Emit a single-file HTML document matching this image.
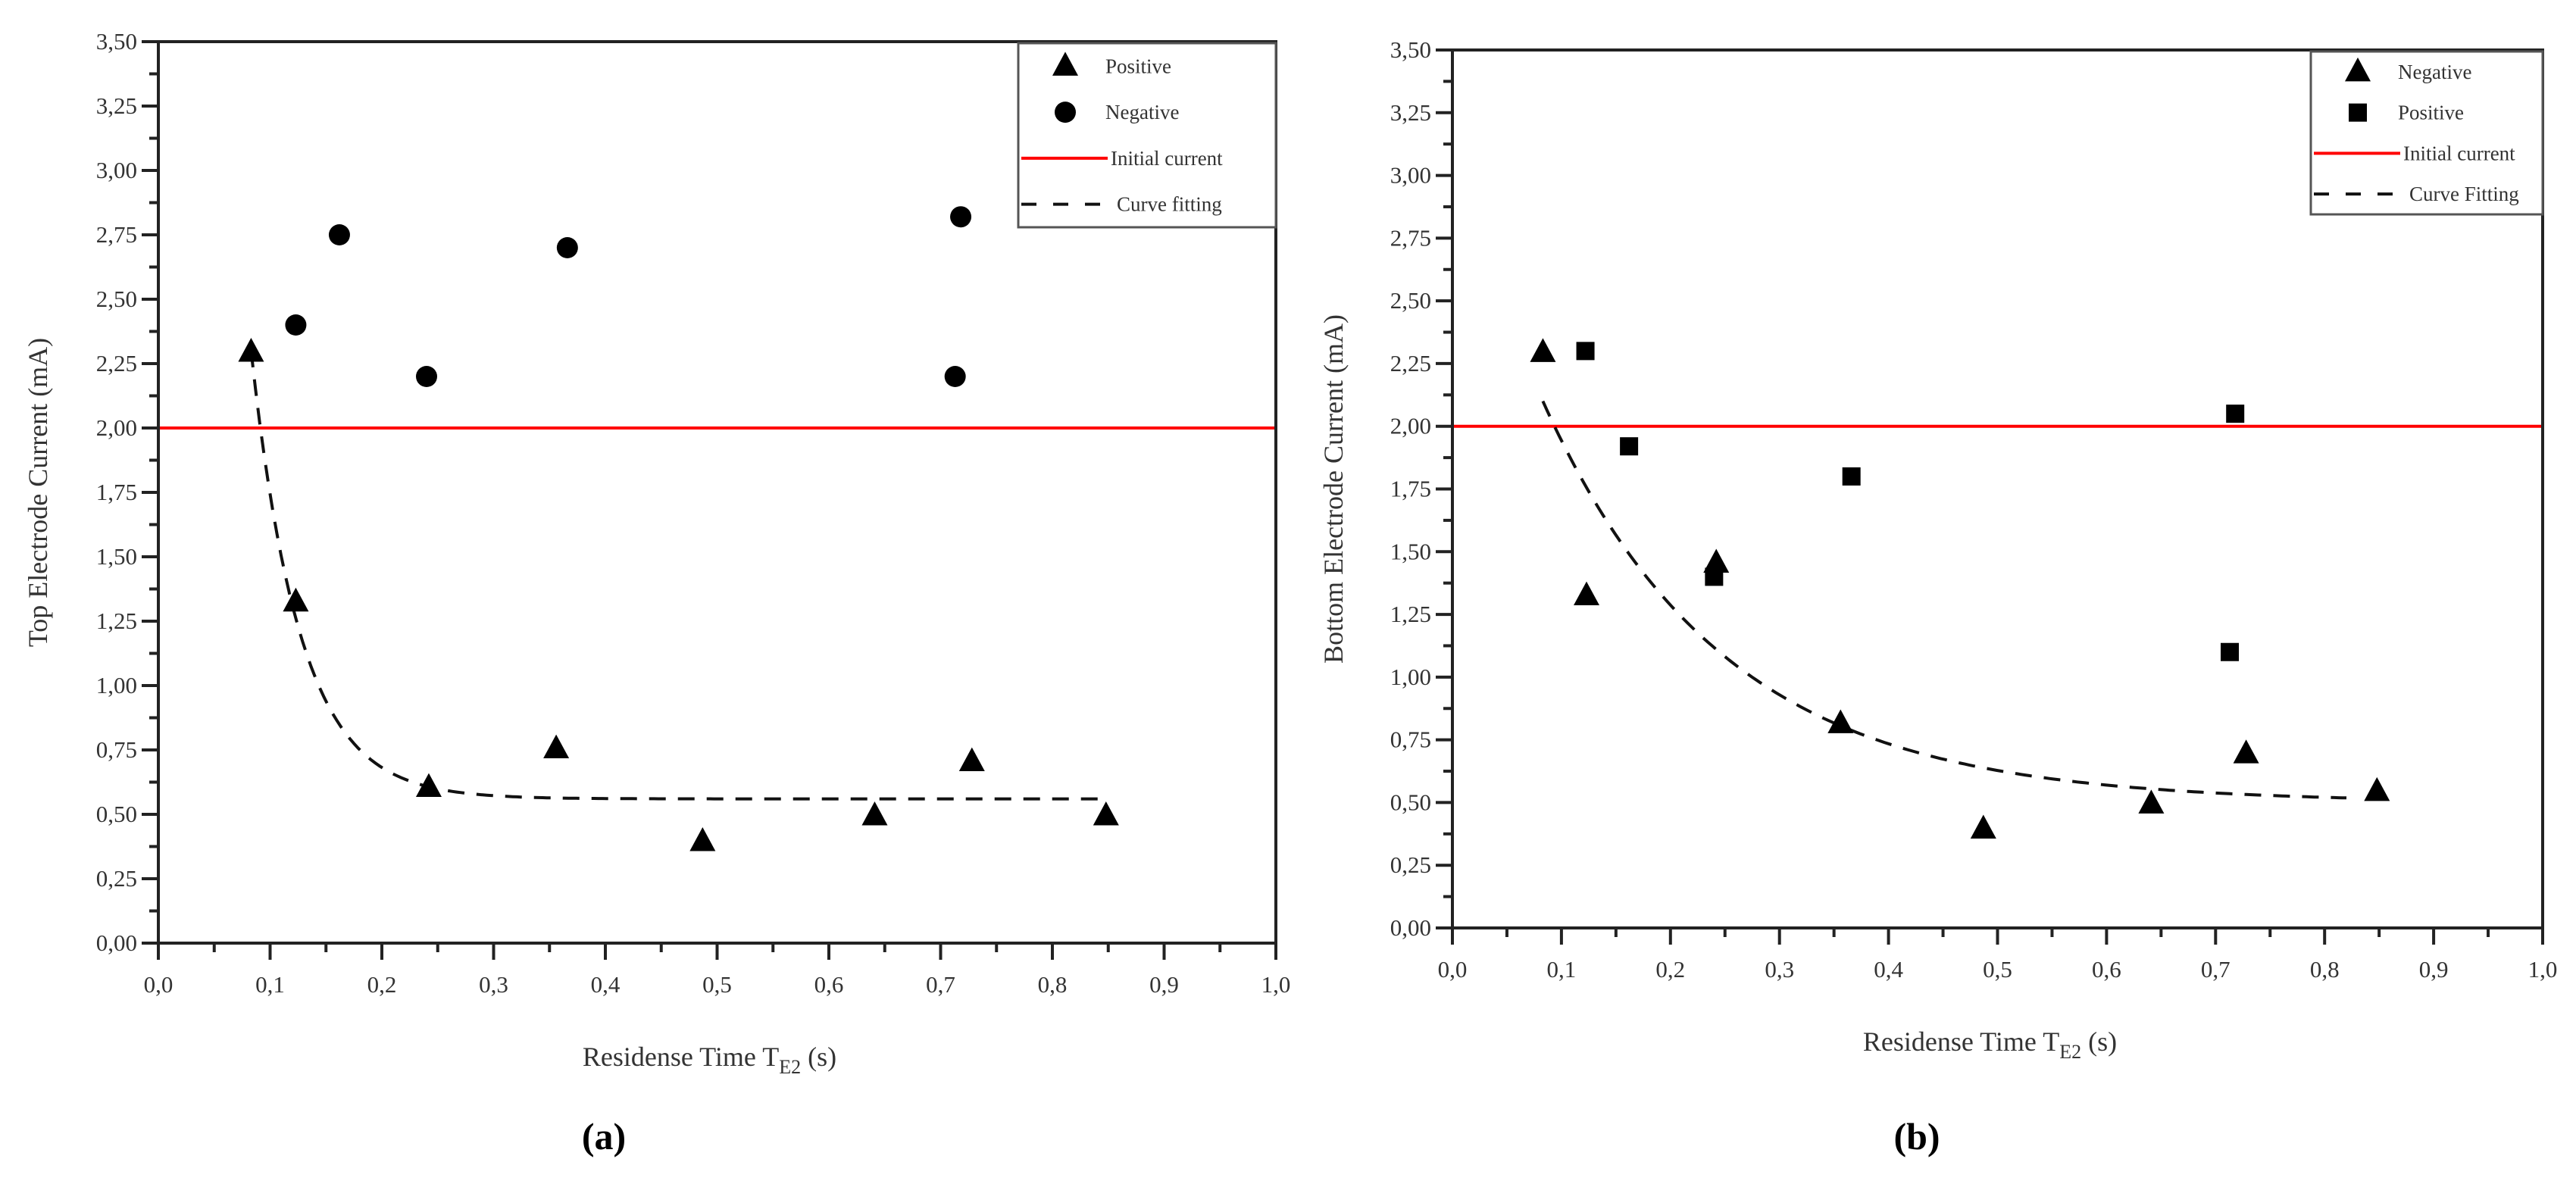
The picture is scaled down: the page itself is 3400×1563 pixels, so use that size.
<!DOCTYPE html>
<html><head><meta charset="utf-8"><style>
html,body{margin:0;padding:0;background:#fff;}
svg{display:block;font-family:"Liberation Serif",serif;}
</style></head><body>
<svg id="fig" width="3400" height="1563" viewBox="0 0 3400 1563" xmlns="http://www.w3.org/2000/svg"></svg>
<script>
const xTicks=["0,0","0,1","0,2","0,3","0,4","0,5","0,6","0,7","0,8","0,9","1,0"];
const yTicks=["0,00","0,25","0,50","0,75","1,00","1,25","1,50","1,75","2,00","2,25","2,50","2,75","3,00","3,25","3,50"];
const initialCurrent=2.0;
// Panel (a)
const aTriX=[0.083,0.123,0.242,0.356,0.487,0.641,0.728,0.848];
const aTriY=[2.30,1.33,0.61,0.76,0.40,0.50,0.71,0.50];
const aCircX=[0.123,0.162,0.240,0.366,0.713,0.718];
const aCircY=[2.40,2.75,2.20,2.70,2.20,2.82];
const aFit=[0.56,1.74,0.083,0.044,0.85]; // base, amp, x0, tau, xEnd
// Panel (b)
const bTriX=[0.083,0.123,0.242,0.356,0.487,0.641,0.728,0.848];
const bTriY=[2.30,1.33,1.46,0.82,0.40,0.50,0.70,0.55];
const bSqX=[0.122,0.162,0.240,0.366,0.713,0.718];
const bSqY=[2.30,1.92,1.40,1.80,1.10,2.05];
const bFit=[0.50,1.60,0.083,0.165,0.82];

const NS="http://www.w3.org/2000/svg";
const svg=document.getElementById('fig');
function mk(tag,attrs,parent,text){const e=document.createElementNS(NS,tag);for(const k in attrs)e.setAttribute(k,attrs[k]);if(text!==undefined)e.textContent=text;(parent||svg).appendChild(e);return e;}

function panel(P){
  const g=mk('g',{});
  
  
  const X=v=>P.x0+v*(P.x1-P.x0);
  const Y=v=>P.y0-v/3.5*(P.y0-P.y1);
  // ticks x
  for(let i=0;i<=20;i++){const v=i*0.05;const major=i%2===0;
    const t=mk('line',{x1:X(v),x2:X(v),y1:P.y0,y2:P.y0+(major?22:12),stroke:'#222','stroke-width':4},g);
    }
  xTicks.forEach((s,i)=>{const t=mk('text',{x:X(i*0.1),y:P.y0+65,'font-size':31,'text-anchor':'middle',fill:'#333'},g,s);
    });
  for(let i=0;i<=28;i++){const v=i*0.125;const major=i%2===0;
    const t=mk('line',{x1:P.x0-(major?22:12),x2:P.x0,y1:Y(v),y2:Y(v),stroke:'#222','stroke-width':4},g);
    }
  yTicks.forEach((s,i)=>{const t=mk('text',{x:P.x0-28,y:Y(i*0.25)+10,'font-size':31,'text-anchor':'end',fill:'#333'},g,s);
    });
  // initial current
  const ic=mk('line',{x1:P.x0,x2:P.x1,y1:Y(initialCurrent),y2:Y(initialCurrent),stroke:'#f00','stroke-width':4},g);
  
  // fit curve
  const f=P.fit;let d='';
  for(let k=0;k<=200;k++){const x=f[2]+(f[4]-f[2])*k/200;const y=f[0]+f[1]*Math.exp(-(x-f[2])/f[3]);d+=(k?'L':'M')+X(x).toFixed(1)+' '+Y(y).toFixed(1);}
  const fc=mk('path',{d:d,fill:'none',stroke:'#111','stroke-width':4,'stroke-dasharray':'22 16'},g);
  
  // markers
  function tri(cx,cy,name){const s=17;const m=mk('polygon',{points:`${cx},${cy-s} ${cx-s},${cy+s*0.85} ${cx+s},${cy+s*0.85}`,fill:'#000'},g);
    }
  function circ(cx,cy,name){const m=mk('circle',{cx:cx,cy:cy,r:14,fill:'#000'},g);
    }
  function sq(cx,cy,name){const m=mk('rect',{x:cx-12,y:cy-12,width:24,height:24,fill:'#000'},g);
    }
  P.triX.forEach((x,i)=>tri(X(x),Y(P.triY[i]),'triangle-point'));
  if(P.circX)P.circX.forEach((x,i)=>circ(X(x),Y(P.circY[i]),'circle-point'));
  if(P.sqX)P.sqX.forEach((x,i)=>sq(X(x),Y(P.sqY[i]),'square-point'));
  // axes frame
  const fr=mk('path',{d:`M${P.x0} ${P.y0}V${P.y1}H${P.x1}V${P.y0}Z`,fill:'none',stroke:'#222','stroke-width':4},g);
  
  // legend
  const L=P.leg;
  const lb=mk('rect',{x:L.x,y:P.y1+2,width:P.x1-L.x,height:L.h,fill:'#fff',stroke:'#555','stroke-width':3},g);
  
  L.items.forEach((it,i)=>{const cy=P.y1+2+L.h*(i+0.5)/4;const mx=L.x+62;
    if(it[0]==='tri')tri(mx,cy-2,'legend-triangle');
    if(it[0]==='circ')circ(mx,cy,'legend-circle');
    if(it[0]==='sq')sq(mx,cy,'legend-square');
    if(it[0]==='red'){const l=mk('line',{x1:L.x+4,x2:L.x+118,y1:cy,y2:cy,stroke:'#f00','stroke-width':4},g);}
    if(it[0]==='dash'){const l=mk('line',{x1:L.x+4,x2:L.x+118,y1:cy,y2:cy,stroke:'#111','stroke-width':4,'stroke-dasharray':'20 22'},g);}
    const t=mk('text',{x:L.x+(it[0]==='red'?122:(it[0]==='dash'?130:115)),y:cy+9,'font-size':27,fill:'#333'},g,it[1]);
    });
  // axis titles
  const yt=mk('text',{x:0,y:0,'font-size':36,'text-anchor':'middle',fill:'#333',transform:`translate(${P.ytx},${(P.y0+P.y1)/2}) rotate(-90)`},g,P.ytitle);
  
  const xt=mk('text',{x:(P.x0+P.x1)/2-10,y:P.y0+162,'font-size':36,'text-anchor':'middle',fill:'#333'},g);
  
  mk('tspan',{},xt,'Residense Time T');mk('tspan',{'font-size':26,dy:10},xt,'E2');mk('tspan',{dy:-10},xt,' (s)');
  const pl=mk('text',{x:P.labx,y:1517,'font-size':50,'font-weight':'bold','text-anchor':'middle',fill:'#000'},g,P.label);
  
}
panel({name:'chart-a',x0:209,x1:1684,y0:1245,y1:55,fit:aFit,triX:aTriX,triY:aTriY,circX:aCircX,circY:aCircY,
  leg:{x:1344,h:243,items:[['tri','Positive'],['circ','Negative'],['red','Initial current'],['dash','Curve fitting']]},
  ytitle:'Top Electrode Current (mA)',ytx:62,labx:797,label:'(a)'});
panel({name:'chart-b',x0:1917,x1:3356,y0:1225,y1:66,fit:bFit,triX:bTriX,triY:bTriY,sqX:bSqX,sqY:bSqY,
  leg:{x:3050,h:215,items:[['tri','Negative'],['sq','Positive'],['red','Initial current'],['dash','Curve Fitting']]},
  ytitle:'Bottom Electrode Current (mA)',ytx:1772,labx:2530,label:'(b)'});
</script>
</body></html>
